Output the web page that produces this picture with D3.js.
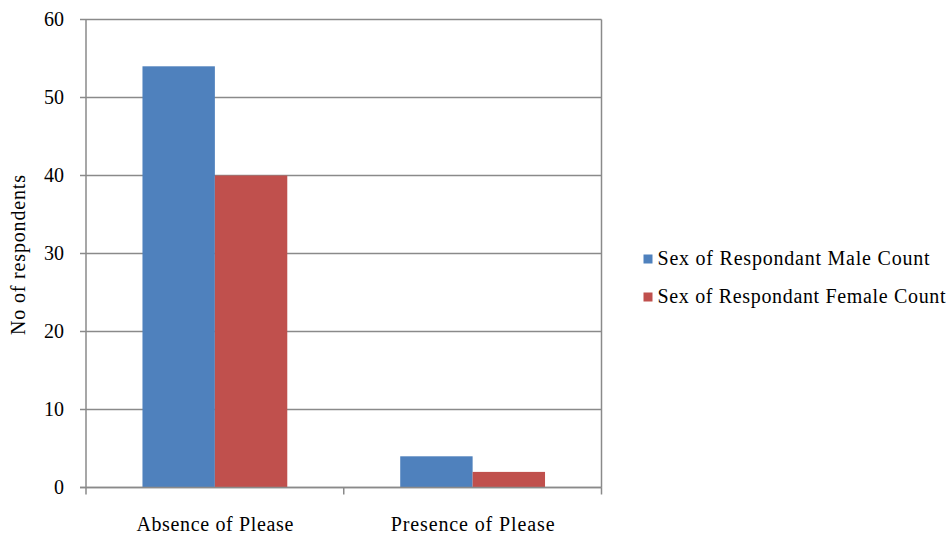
<!DOCTYPE html>
<html>
<head>
<meta charset="utf-8">
<script src="https://cdn.jsdelivr.net/npm/d3@7/dist/d3.min.js"></script>
</head>
<body style="margin:0">
<svg id="chart" width="951" height="534" style="display:block;background:#fff"></svg>
<script>
// Respondent counts by condition and sex
const categories = ["Absence of Please", "Presence of Please"];
const seriesNames = ["Sex of Respondant Male Count", "Sex of Respondant Female Count"];
const maleCounts = [54, 4];
const femaleCounts = [40, 2];
const yTicks = [0, 10, 20, 30, 40, 50, 60];
const seriesColors = ["#4F81BD", "#C0504D"];

const svg = d3.select("#chart");
const plot = { left: 86, right: 601.5, top: 19.5, bottom: 487.5 };
const gridColor = "#8a8a8a";

const x0 = d3.scaleBand().domain(categories).range([plot.left, plot.right]).padding(0);
const x1 = d3.scaleBand().domain(seriesNames).range([0, x0.bandwidth()])
  .paddingInner(0).paddingOuter(0.78);
const y = d3.scaleLinear().domain([0, 60]).range([plot.bottom, plot.top]);

const rows = categories.map((c, i) => ({
  category: c,
  values: [
    { series: seriesNames[0], value: maleCounts[i], color: seriesColors[0] },
    { series: seriesNames[1], value: femaleCounts[i], color: seriesColors[1] }
  ]
}));

// Horizontal gridlines, extending left as tick marks
svg.append("g").selectAll("line").data(yTicks).join("line")
  .attr("x1", plot.left - 6).attr("x2", plot.right)
  .attr("y1", d => y(d)).attr("y2", d => y(d))
  .attr("stroke", gridColor).attr("stroke-width", 1.5);

// Bars
svg.append("g").selectAll("g").data(rows).join("g")
  .attr("transform", d => `translate(${x0(d.category)},0)`)
  .selectAll("rect").data(d => d.values).join("rect")
  .attr("x", d => x1(d.series))
  .attr("width", x1.bandwidth())
  .attr("y", d => y(d.value))
  .attr("height", d => y(0) - y(d.value))
  .attr("fill", d => d.color);

// Frame: left axis, right border, bottom axis
const frame = svg.append("g").attr("stroke", gridColor).attr("stroke-width", 1.5);
frame.append("line").attr("x1", plot.left).attr("x2", plot.left)
  .attr("y1", plot.top).attr("y2", plot.bottom);
frame.append("line").attr("x1", plot.right).attr("x2", plot.right)
  .attr("y1", plot.top).attr("y2", plot.bottom);
frame.append("line").attr("x1", plot.left - 6).attr("x2", plot.right)
  .attr("y1", plot.bottom).attr("y2", plot.bottom);

// Category boundary ticks on the x axis
const xBoundaries = [plot.left, ...categories.map(c => x0(c) + x0.bandwidth())];
frame.append("g").selectAll("line").data(xBoundaries).join("line")
  .attr("x1", d => d).attr("x2", d => d)
  .attr("y1", plot.bottom).attr("y2", plot.bottom + 7);

// All labels are placed directly on the svg in a Times-style serif face
const label = sel => sel
  .style("font-family", '"Liberation Serif", "Times New Roman", Tinos', "important")
  .style("font-size", "20px", "important")
  .attr("fill", "#000");

// Y tick labels
svg.selectAll("text.ytick").data(yTicks).join("text")
  .attr("class", "ytick")
  .call(label)
  .attr("x", 64).attr("y", d => y(d) + 6.5)
  .attr("text-anchor", "end")
  .text(d => d);

// Category labels
const catWidths = [157, 164];
svg.selectAll("text.cat").data(categories).join("text")
  .attr("class", "cat")
  .call(label)
  .attr("x", d => x0(d) + x0.bandwidth() / 2).attr("y", 531)
  .attr("text-anchor", "middle")
  .attr("textLength", (d, i) => catWidths[i])
  .text(d => d);

// Y axis title
svg.append("text")
  .call(label)
  .attr("transform", "translate(25,255) rotate(-90)")
  .attr("text-anchor", "middle")
  .attr("textLength", 160)
  .text("No of respondents");

// Legend swatches and labels
const legendX = 643.5, legendY = 254.5, legendStep = 38;
const legendWidths = [272, 288];
svg.selectAll("rect.key").data(seriesNames).join("rect")
  .attr("class", "key")
  .attr("x", legendX).attr("y", (d, i) => legendY + i * legendStep)
  .attr("width", 9).attr("height", 9)
  .attr("fill", (d, i) => seriesColors[i]);
svg.selectAll("text.key").data(seriesNames).join("text")
  .attr("class", "key")
  .call(label)
  .attr("x", legendX + 14).attr("y", (d, i) => legendY + 10.5 + i * legendStep)
  .attr("textLength", (d, i) => legendWidths[i])
  .text(d => d);
</script>
</body>
</html>
